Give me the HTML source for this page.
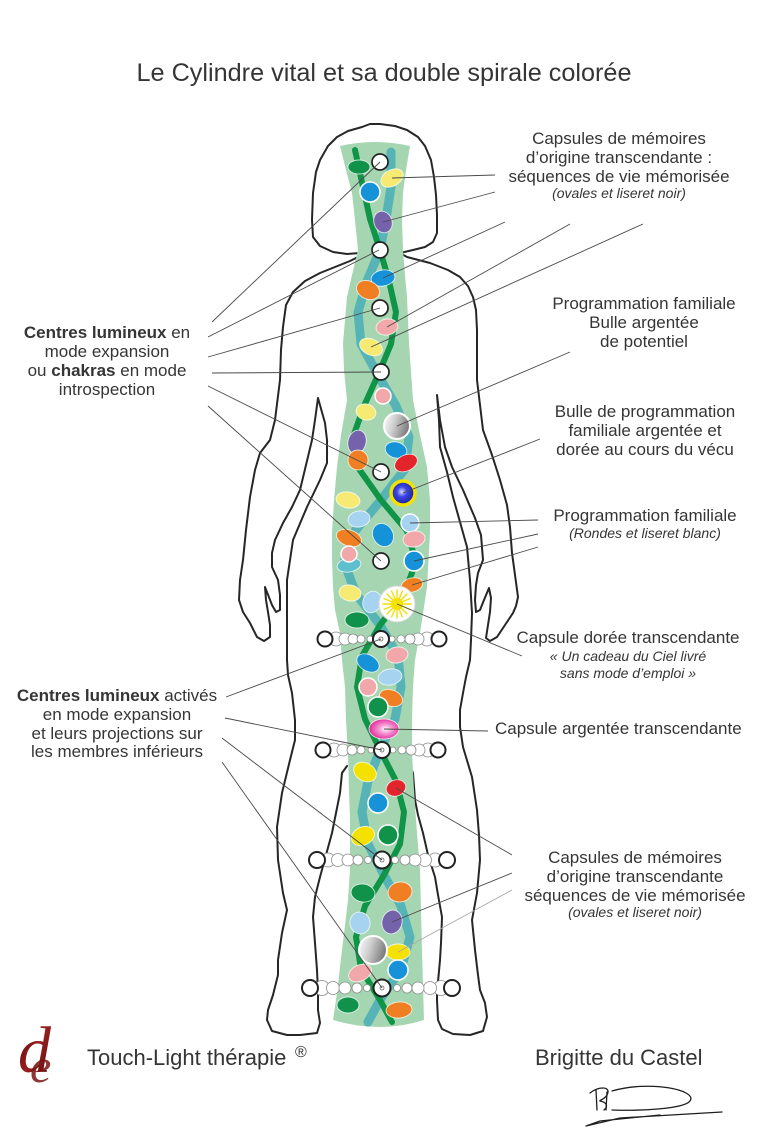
<!DOCTYPE html>
<html>
<head>
<meta charset="utf-8">
<style>
html,body{margin:0;padding:0;background:#fff;}
svg{display:block;}
text{font-family:"Liberation Sans",sans-serif;fill:#353535;}
.it{font-style:italic;font-size:14px;}
.lb{font-size:17px;}
</style>
</head>
<body>
<svg width="768" height="1145" viewBox="0 0 768 1145" xmlns="http://www.w3.org/2000/svg">
<defs>
<linearGradient id="silver" x1="0" y1="0" x2="1" y2="0.3">
<stop offset="0" stop-color="#ffffff"/><stop offset="0.45" stop-color="#d0d0d0"/><stop offset="1" stop-color="#7e7e7e"/>
</linearGradient>
<radialGradient id="bluesph" cx="0.45" cy="0.45" r="0.6">
<stop offset="0" stop-color="#d9dcff"/><stop offset="0.35" stop-color="#3b46e8"/><stop offset="1" stop-color="#14168a"/>
</radialGradient>
<radialGradient id="mag" cx="0.55" cy="0.5" r="0.6">
<stop offset="0" stop-color="#ffffff"/><stop offset="0.35" stop-color="#f59ad6"/><stop offset="1" stop-color="#e0168f"/>
</radialGradient>
<linearGradient id="logo" x1="0" y1="0" x2="1" y2="1">
<stop offset="0" stop-color="#3a0505"/><stop offset="0.5" stop-color="#9a2020"/><stop offset="1" stop-color="#4a0808"/>
</linearGradient>
</defs>

<!-- Title -->
<text x="384" y="81" font-size="25" text-anchor="middle" textLength="495" lengthAdjust="spacingAndGlyphs">Le Cylindre vital et sa double spirale colorée</text>

<!-- Body outline -->
<g fill="none" stroke="#262626" stroke-width="2" stroke-linejoin="round" stroke-linecap="round">
<path d="M360,253 L347,254 L333,252 L320,246 L313,237 L312,220 L313,193 L316,172 L320,160 L328,146 L337,137 L348,131 L362,127 L370,124 L380,124 L395,126 L407,130 L418,137 L425,146 L431,160 L434,177 L436,195 L437,215 L437,233 L433,242 L425,247 L413,250 L400,253 L407,257 L430,263 L448,270 L460,277 L468,286 L473,297 L476,310 L477,330 L477,380 L483,430 L492,455 L500,480 L507,505 L510,527 L512,553 L515,575 L518,597 L516,606 L513,613 L505,625 L497,637 L490,641 L486,638 L488,625 L490,612 L491,598 L489,588 L484,600 L480,610 L476,612 L475,600 L476,585 L478,573 L483,560 L481,535 L475,518 L463,490 L452,467 L445,447 L440,420 L437,395 L439,420 L440,447 L447,472 L453,497 L460,522 L467,547 L470,580 L472,613 L471,640 L470,660 L466,677 L463,693 L460,710 L460,727 L463,747 L472,777 L477,810 L479,835 L480,860 L477,893 L472,920 L475,950 L478,975 L480,990 L485,1003 L487,1017 L483,1031 L470,1035 L453,1034 L442,1029 L438,1020 L437,1000 L437,993 L440,960 L441,943 L442,917 L438,895 L435,877 L428,855 L423,833 L418,815 L415,800 L413,773 L410,766 L407,763"/>
<path d="M347,766 L342,773 L340,793 L336,813 L332,833 L326,855 L320,877 L315,897 L313,917 L315,943 L317,970 L318,993 L318,1010 L320,1023 L317,1033 L300,1035 L287,1035 L272,1031 L267,1020 L268,1010 L273,995 L278,975 L278,960 L282,933 L287,910 L283,893 L278,860 L277,827 L282,793 L290,760 L295,740 L295,720 L292,693 L288,675 L287,660 L287,620 L287,580 L293,540 L307,507 L320,480 L327,463 L327,440 L325,423 L318,398 L315,420 L312,440 L306,465 L300,490 L292,507 L283,523 L275,540 L272,553 L272,567 L278,580 L280,595 L280,610 L276,612 L272,605 L265,587 L266,600 L268,612 L270,625 L270,637 L264,641 L257,637 L250,623 L243,612 L239,600 L240,580 L243,560 L246,530 L250,497 L255,470 L260,453 L270,440 L275,420 L280,380 L281,350 L283,327 L286,305 L293,292 L305,281 L320,273 L335,267 L350,261 L358,257 L362,252"/>
</g>

<!-- Cylinder -->
<path d="M340,146 Q375,138 410,146 L406,170 L403,193 L402,220 L403,250 L405,275 L407,297 L409,343 L413,400 L420,435 L427,467 L430,500 L430,533 L427,587 L420,633 L415,660 L413,687 L412,720 L412,753 L414,790 L416,820 L420,870 L422,950 L424,1020 Q380,1034 333,1020 L337,993 L342,950 L348,900 L350,870 L350,820 L349,790 L348,753 L346,720 L345,687 L342,660 L340,633 L335,610 L333,587 L332,560 L332,533 L334,500 L337,467 L341,435 L347,400 L344,370 L343,343 L345,320 L347,297 L352,275 L358,250 L355,220 L352,193 L346,170 Z" fill="#a6d6b1"/>

<!-- Spiral strands -->
<polyline fill="none" stroke="#57b4b6" stroke-width="9" stroke-linejoin="round" stroke-linecap="round" points="391,152 391,187 386,219 380,250 367,281 358,312 361,344 378,375 396,406 409,437 405,469 381,500 355,531 344,562 356,594 380,625 398,656 401,687 395,719 380,750 368,781 362,812 368,844 384,875 401,906 410,937 401,969 380,1000 368,1022"/>
<polyline fill="none" stroke="#109447" stroke-width="6" stroke-linejoin="round" stroke-linecap="round" points="355,150 363,187 370,219 380,250 389,281 396,312 391,344 378,375 364,406 353,437 359,469 381,500 407,531 416,562 404,594 380,625 362,656 357,687 365,719 380,750 396,781 404,812 400,844 384,875 365,906 356,937 361,969 380,1000 392,1022"/>

<!-- Capsules -->
<g stroke="#ffffff" stroke-width="0.9" stroke-opacity="0.75">
<ellipse cx="359" cy="167" rx="11" ry="7" fill="#10924a"/>
<ellipse cx="392" cy="178" rx="12" ry="8" fill="#f6ea72" transform="rotate(-30 392 178)"/>
<circle cx="370" cy="192" r="10" fill="#1592d8" stroke-width="1.5" stroke-opacity="1"/>
<ellipse cx="383" cy="222" rx="9" ry="11" fill="#7463ab" transform="rotate(-20 383 222)"/>
<ellipse cx="383" cy="278" rx="12" ry="8" fill="#1592d8" transform="rotate(-10 383 278)"/>
<ellipse cx="368" cy="290" rx="12" ry="9" fill="#ef7f22" transform="rotate(25 368 290)"/>
<ellipse cx="387" cy="327" rx="11" ry="8" fill="#f2a8aa" transform="rotate(-10 387 327)"/>
<ellipse cx="371" cy="347" rx="12" ry="8" fill="#f6ea72" transform="rotate(25 371 347)"/>
<circle cx="383" cy="396" r="8" fill="#f2a8aa" stroke-width="1.5" stroke-opacity="1"/>
<ellipse cx="366" cy="412" rx="10" ry="8" fill="#f6ea72" transform="rotate(15 366 412)"/>
<ellipse cx="357" cy="442" rx="9" ry="12" fill="#7463ab" transform="rotate(15 357 442)"/>
<ellipse cx="396" cy="450" rx="11" ry="8" fill="#1592d8" transform="rotate(15 396 450)"/>
<ellipse cx="358" cy="460" rx="10" ry="10" fill="#ef7f22"/>
<ellipse cx="406" cy="463" rx="12" ry="8" fill="#e3242b" transform="rotate(-25 406 463)"/>
<ellipse cx="348" cy="500" rx="12" ry="8" fill="#f6ea72" transform="rotate(10 348 500)"/>
<ellipse cx="359" cy="519" rx="11" ry="8" fill="#a6d4f0" transform="rotate(-10 359 519)"/>
<circle cx="410" cy="523" r="9" fill="#a6d4f0" stroke-width="1.5" stroke-opacity="1"/>
<ellipse cx="383" cy="535" rx="10" ry="12" fill="#1592d8" transform="rotate(-30 383 535)"/>
<ellipse cx="349" cy="538" rx="13" ry="8" fill="#ef7f22" transform="rotate(20 349 538)"/>
<ellipse cx="414" cy="539" rx="11" ry="8" fill="#f2a8aa" transform="rotate(-10 414 539)"/>
<ellipse cx="349" cy="565" rx="12" ry="7" fill="#5ec0cf" transform="rotate(-10 349 565)"/>
<circle cx="349" cy="554" r="8" fill="#f2a8aa" stroke-width="1.5" stroke-opacity="1"/>
<circle cx="414" cy="561" r="10" fill="#1592d8" stroke-width="1.5" stroke-opacity="1"/>
<ellipse cx="350" cy="593" rx="11" ry="8" fill="#f6ea72" transform="rotate(10 350 593)"/>
<ellipse cx="412" cy="585" rx="11" ry="7" fill="#ef7f22" transform="rotate(-15 412 585)"/>
<ellipse cx="372" cy="602" rx="9" ry="11" fill="#a6d4f0" transform="rotate(20 372 602)"/>
<ellipse cx="357" cy="620" rx="12" ry="8" fill="#10924a"/>
<ellipse cx="397" cy="655" rx="11" ry="8" fill="#f2a8aa" transform="rotate(-10 397 655)"/>
<ellipse cx="368" cy="663" rx="12" ry="8" fill="#1592d8" transform="rotate(30 368 663)"/>
<ellipse cx="390" cy="677" rx="12" ry="8" fill="#a6d4f0" transform="rotate(-10 390 677)"/>
<circle cx="368" cy="687" r="9" fill="#f2a8aa" stroke-width="1.5" stroke-opacity="1"/>
<ellipse cx="391" cy="698" rx="12" ry="8" fill="#ef7f22" transform="rotate(20 391 698)"/>
<circle cx="378" cy="707" r="10" fill="#10924a" stroke-width="1.5" stroke-opacity="1"/>
<ellipse cx="384" cy="729" rx="15" ry="10" fill="url(#mag)"/>
<ellipse cx="365" cy="772" rx="12" ry="9" fill="#f5e100" transform="rotate(30 365 772)"/>
<ellipse cx="396" cy="788" rx="10" ry="8" fill="#e3242b" transform="rotate(-20 396 788)"/>
<circle cx="378" cy="803" r="10" fill="#1592d8" stroke-width="1.5" stroke-opacity="1"/>
<ellipse cx="363" cy="836" rx="12" ry="9" fill="#f5e100" transform="rotate(-25 363 836)"/>
<circle cx="388" cy="835" r="10" fill="#10924a" stroke-width="1.5" stroke-opacity="1"/>
<ellipse cx="363" cy="893" rx="12" ry="9" fill="#10924a" transform="rotate(10 363 893)"/>
<ellipse cx="400" cy="892" rx="12" ry="10" fill="#ef7f22" transform="rotate(-10 400 892)"/>
<ellipse cx="360" cy="923" rx="10" ry="11" fill="#a6d4f0" transform="rotate(-15 360 923)"/>
<ellipse cx="392" cy="922" rx="10" ry="12" fill="#7463ab" transform="rotate(15 392 922)"/>
<ellipse cx="398" cy="952" rx="12" ry="8" fill="#f5e100"/>
<circle cx="398" cy="970" r="10" fill="#1592d8" stroke-width="1.5" stroke-opacity="1"/>
<ellipse cx="360" cy="973" rx="12" ry="8" fill="#f2a8aa" transform="rotate(-25 360 973)"/>
<ellipse cx="348" cy="1005" rx="11" ry="8" fill="#10924a"/>
<ellipse cx="399" cy="1010" rx="13" ry="8" fill="#ef7f22" transform="rotate(-5 399 1010)"/>
</g>

<!-- Spheres -->
<circle cx="397" cy="426" r="13" fill="url(#silver)" stroke="#ffffff" stroke-width="2"/>
<circle cx="373" cy="950" r="14" fill="url(#silver)" stroke="#ffffff" stroke-width="2"/>
<circle cx="403" cy="493" r="12" fill="url(#bluesph)" stroke="#f2e200" stroke-width="3.5"/>

<!-- Sun capsule -->
<circle cx="397" cy="604" r="18" fill="#ffffff" stroke="#d8d8d8" stroke-width="1"/>
<g stroke="#f0df00" stroke-width="1.4" stroke-linecap="round">
<line x1="402" y1="604" x2="411" y2="604"/><line x1="401.6" y1="605.9" x2="409.9" y2="609.4"/>
<line x1="400.5" y1="607.5" x2="406.9" y2="613.9"/><line x1="398.9" y1="608.6" x2="402.4" y2="616.9"/>
<line x1="397" y1="609" x2="397" y2="618"/><line x1="395.1" y1="608.6" x2="391.6" y2="616.9"/>
<line x1="393.5" y1="607.5" x2="387.1" y2="613.9"/><line x1="392.4" y1="605.9" x2="384.1" y2="609.4"/>
<line x1="392" y1="604" x2="383" y2="604"/><line x1="392.4" y1="602.1" x2="384.1" y2="598.6"/>
<line x1="393.5" y1="600.5" x2="387.1" y2="594.1"/><line x1="395.1" y1="599.4" x2="391.6" y2="591.1"/>
<line x1="397" y1="599" x2="397" y2="590"/><line x1="398.9" y1="599.4" x2="402.4" y2="591.1"/>
<line x1="400.5" y1="600.5" x2="406.9" y2="594.1"/><line x1="401.6" y1="602.1" x2="409.9" y2="598.6"/>
</g>
<circle cx="397" cy="604" r="6" fill="#f5e100"/>

<!-- Chakras (top) -->
<g fill="#ffffff" stroke="#222" stroke-width="1.7">
<circle cx="380" cy="162" r="8"/>
<circle cx="380" cy="250" r="8"/>
<circle cx="380" cy="308" r="8"/>
<circle cx="381" cy="372" r="8"/>
<circle cx="381" cy="472" r="8"/>
<circle cx="381" cy="561" r="8"/>
</g>

<!-- Chakra rows -->
<g fill="#ffffff" stroke="#8a8a8a" stroke-width="0.8">
<circle cx="336" cy="639" r="7"/><circle cx="345" cy="639" r="6"/><circle cx="353" cy="639" r="5"/><circle cx="361" cy="639" r="4"/><circle cx="370" cy="639" r="3"/>
<circle cx="427" cy="639" r="7"/><circle cx="418" cy="639" r="6"/><circle cx="410" cy="639" r="5"/><circle cx="401" cy="639" r="4"/><circle cx="392" cy="639" r="3"/>
<circle cx="334" cy="750" r="7"/><circle cx="343" cy="750" r="6"/><circle cx="352" cy="750" r="5"/><circle cx="361" cy="750" r="4"/><circle cx="371" cy="750" r="3"/>
<circle cx="428" cy="750" r="7"/><circle cx="419" cy="750" r="6"/><circle cx="411" cy="750" r="5"/><circle cx="402" cy="750" r="4"/><circle cx="393" cy="750" r="3"/>
<circle cx="328" cy="860" r="7"/><circle cx="338" cy="860" r="6.5"/><circle cx="348" cy="860" r="6"/><circle cx="358" cy="860" r="5"/><circle cx="368" cy="860" r="3.5"/>
<circle cx="435" cy="860" r="7"/><circle cx="425" cy="860" r="6.5"/><circle cx="415" cy="860" r="6"/><circle cx="405" cy="860" r="5"/><circle cx="395" cy="860" r="3.5"/>
<circle cx="322" cy="988" r="7.5"/><circle cx="333" cy="988" r="6.5"/><circle cx="345" cy="988" r="6"/><circle cx="357" cy="988" r="5"/><circle cx="367" cy="988" r="3.5"/>
<circle cx="441" cy="988" r="7.5"/><circle cx="430" cy="988" r="6.5"/><circle cx="418" cy="988" r="6"/><circle cx="407" cy="988" r="5"/><circle cx="397" cy="988" r="3.5"/>
</g>
<g fill="#ffffff" stroke="#222" stroke-width="2">
<circle cx="325" cy="639" r="7.5"/><circle cx="439" cy="639" r="7.5"/><circle cx="381" cy="639" r="8"/>
<circle cx="323" cy="750" r="7.5"/><circle cx="438" cy="750" r="7.5"/><circle cx="382" cy="750" r="8"/>
<circle cx="317" cy="860" r="8"/><circle cx="447" cy="860" r="8"/><circle cx="382" cy="860" r="8.5"/>
<circle cx="310" cy="988" r="8"/><circle cx="452" cy="988" r="8"/><circle cx="382" cy="988" r="8.5"/>
</g>
<g fill="none" stroke="#666" stroke-width="0.8">
<circle cx="381" cy="639" r="2"/><circle cx="382" cy="750" r="2"/><circle cx="382" cy="860" r="2"/><circle cx="382" cy="988" r="2"/>
</g>

<!-- Leader lines -->
<g stroke="#4a4a4a" stroke-width="0.9" fill="none">
<line x1="392" y1="178" x2="495" y2="175"/>
<line x1="383" y1="222" x2="495" y2="192"/>
<line x1="383" y1="278" x2="505" y2="222"/>
<line x1="387" y1="327" x2="570" y2="224"/>
<line x1="371" y1="347" x2="643" y2="224"/>
<line x1="397" y1="426" x2="570" y2="352"/>
<line x1="403" y1="493" x2="540" y2="439"/>
<line x1="410" y1="523" x2="538" y2="520"/>
<line x1="414" y1="561" x2="538" y2="534"/>
<line x1="412" y1="585" x2="538" y2="547"/>
<line x1="397" y1="604" x2="522" y2="656"/>
<line x1="384" y1="729" x2="488" y2="731"/>
<line x1="396" y1="788" x2="512" y2="855"/>
<line x1="392" y1="922" x2="512" y2="873"/>
<line x1="398" y1="952" x2="512" y2="890" stroke="#a8a8a8"/>
<line x1="212" y1="322" x2="380" y2="162"/>
<line x1="208" y1="337" x2="379" y2="250"/>
<line x1="208" y1="357" x2="380" y2="308"/>
<line x1="212" y1="373" x2="381" y2="372"/>
<line x1="208" y1="386" x2="381" y2="472"/>
<line x1="208" y1="406" x2="381" y2="561"/>
<line x1="226" y1="697" x2="381" y2="639"/>
<line x1="225" y1="718" x2="382" y2="750"/>
<line x1="222" y1="738" x2="382" y2="860"/>
<line x1="222" y1="762" x2="382" y2="988"/>
</g>

<!-- Labels -->
<g text-anchor="middle">
<text class="lb" x="619" y="144">Capsules de mémoires</text>
<text class="lb" x="619" y="163">d’origine transcendante :</text>
<text class="lb" x="619" y="182">séquences de vie mémorisée</text>
<text class="it" x="619" y="198">(ovales et liseret noir)</text>

<text class="lb" x="644" y="309">Programmation familiale</text>
<text class="lb" x="644" y="328">Bulle argentée</text>
<text class="lb" x="644" y="347">de potentiel</text>

<text class="lb" x="645" y="417">Bulle de programmation</text>
<text class="lb" x="645" y="436">familiale argentée et</text>
<text class="lb" x="645" y="455">dorée au cours du vécu</text>

<text class="lb" x="645" y="521">Programmation familiale</text>
<text class="it" x="645" y="538">(Rondes et liseret blanc)</text>

<text class="lb" x="628" y="643">Capsule dorée transcendante</text>
<text class="it" x="628" y="661">« Un cadeau du Ciel livré</text>
<text class="it" x="628" y="678">sans mode d’emploi »</text>

<text class="lb" x="635" y="863">Capsules de mémoires</text>
<text class="lb" x="635" y="882">d’origine transcendante</text>
<text class="lb" x="635" y="901">séquences de vie mémorisée</text>
<text class="it" x="635" y="917">(ovales et liseret noir)</text>

<text class="lb" x="107" y="338"><tspan font-weight="bold">Centres lumineux</tspan> en</text>
<text class="lb" x="107" y="357">mode expansion</text>
<text class="lb" x="107" y="376">ou <tspan font-weight="bold">chakras</tspan> en mode</text>
<text class="lb" x="107" y="395">introspection</text>

<text class="lb" x="117" y="701"><tspan font-weight="bold">Centres lumineux</tspan> activés</text>
<text class="lb" x="117" y="720">en mode expansion</text>
<text class="lb" x="117" y="739">et leurs projections sur</text>
<text class="lb" x="117" y="757">les membres inférieurs</text>
</g>
<text class="lb" x="495" y="734">Capsule argentée transcendante</text>

<!-- Footer -->
<text x="18" y="1072" font-size="66" style="font-family:'Liberation Serif',serif;font-style:italic;fill:url(#logo)">d</text>
<text x="30" y="1082" font-size="48" style="font-family:'Liberation Serif',serif;font-style:italic;fill:#7a1414;opacity:0.85">e</text>
<text x="87" y="1065" font-size="22">Touch-Light thérapie</text>
<text x="295" y="1057" font-size="16">®</text>
<text x="535" y="1065" font-size="22">Brigitte du Castel</text>

<!-- Signature -->
<g fill="none" stroke="#1e1e1e" stroke-width="1.3" stroke-linecap="round" stroke-linejoin="round">
<path d="M597,1110 L596,1090"/>
<path d="M590,1093 C598,1086 612,1086 607,1095 C604,1100 599,1100 600,1101 C606,1102 609,1106 604,1110"/>
<path d="M606,1110 L607,1092"/>
<path d="M612,1091 C650,1080 698,1090 690,1101 C684,1109 640,1111 612,1110"/>
<path d="M722,1112 L620,1118 L586,1126 L600,1121 L660,1115"/>
</g>
</svg>
</body>
</html>
